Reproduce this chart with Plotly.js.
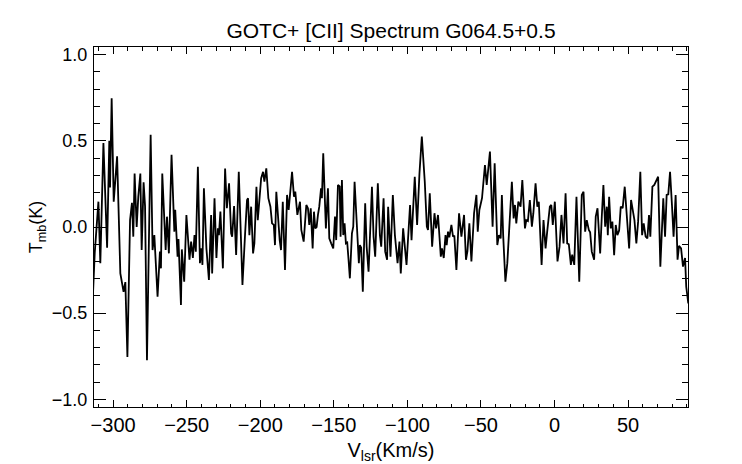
<!DOCTYPE html>
<html>
<head>
<meta charset="utf-8">
<script src="https://cdn.plot.ly/plotly-3.0.1.min.js"></script>
<style>html,body{margin:0;padding:0;background:#fff;}#chart{width:742px;height:464px;}</style>
</head>
<body>
<div id="chart"></div>
<script>
// Spectrum: velocity (km/s) and Tmb (K)
const velocity = [
-314,-312.5,-310.0,-308.7,-306.6,-304.1,-302.6,-302.1,-301.0,-299.6,-297.3,-295.1,-292.9,-291.7,-290.3,-288.5,-287.2,-286.3,-285.4,-284.0,
-282.9,-281.5,-280.6,-279.3,-278.3,-277.0,-274.5,-273.2,-272.0,-269.8,-268.2,-267.5,-266.6,-265.7,-264.3,-263.4,-262.1,-260.3,-258.4,-257.8,
-256.2,-255.6,-253.9,-253.3,-251.7,-250.2,-248.1,-247.0,-245.8,-244.7,-243.8,-242.4,-241.0,-240.1,-239.3,-238.3,-236.6,-234.9,-233.4,-232.7,
-231.1,-229.8,-228.8,-228.1,-227.1,-225.4,-223.9,-222.7,-221.2,-219.8,-219.1,-217.8,-216.4,-214.6,-213.5,-212.1,-210.3,-209.0,-208.3,-207.4,
-206.2,-204.9,-204.0,-202.6,-201.7,-200.8,-199.4,-198.1,-197.2,-195.9,-194.5,-193.1,-192.0,-190.8,-190.0,-189.1,-187.7,-186.8,-185.9,-184.7,
-183.2,-181.8,-180.7,-179.6,-178.4,-177.1,-176.2,-174.8,-173.0,-172.1,-170.5,-168.7,-167.6,-166.7,-165.7,-164.4,-163.5,-162.6,-161.7,-160.8,
-159.9,-158.7,-158.1,-157.2,-156.2,-155.4,-154.0,-153.1,-151.8,-150.4,-149.2,-148.4,-147.2,-146.0,-145.4,-144.5,-143.6,-142.7,-141.8,-140.9,
-140.0,-139.1,-137.7,-136.8,-135.9,-134.1,-133.0,-132.3,-131.4,-130.3,-128.7,-127.7,-126.4,-124.1,-123.0,-121.9,-120.1,-118.7,-117.8,-116.2,
-115.1,-113.8,-113.1,-111.5,-109.9,-108.5,-106.7,-105.4,-104.5,-102.9,-100.6,-98.2,-97.2,-95.0,-93.4,-91.8,-90.2,-88.2,-86.8,-86.0,
-84.8,-83.2,-81.6,-80.5,-79.2,-77.3,-76.5,-75.3,-74.1,-73.3,-72.4,-71.5,-70.1,-69.0,-68.1,-66.7,-64.9,-63.3,-61.5,-60.2,
-59.2,-57.9,-56.5,-54.7,-53.1,-52.2,-51.1,-49.3,-47.3,-46.1,-43.9,-42.1,-40.7,-38.9,-37.8,-36.6,-35.8,-34.9,-33.4,-32.1,
-30.5,-29.0,-27.8,-26.9,-26.0,-24.6,-23.1,-21.9,-20.1,-19.2,-18.1,-16.8,-15.4,-14.4,-12.9,-11.7,-10.7,-8.8,-7.5,-6.1,
-5.0,-3.2,-2.2,-1.2,0.2,2.0,3.4,4.7,6.1,7.5,8.6,9.7,11.1,12.0,13.4,14.9,16.8,18.5,19.7,20.8,
21.9,23.3,24.2,25.3,26.9,28.0,29.2,31.0,32.1,33.2,34.4,35.5,36.2,37.1,38.2,39.3,40.5,41.6,42.7,43.9,
45.0,46.3,47.7,49.0,50.7,52.0,53.1,54.3,55.6,56.8,58.3,59.5,60.6,61.9,63.1,64.2,65.1,66.5,67.8,69.2,
70.4,71.9,73.1,73.9,75.1,76.2,77.3,78.5,79.8,80.9,82.3,83.6,84.6,86.0,87.3,88.7,89.5,90.9
];
const tmb = [
-0.45,-0.15,0.147,-0.21,0.487,-0.12,0.50,0.23,0.748,0.147,0.41,-0.27,-0.376,-0.32,-0.754,0.04,0.14,-0.056,0.31,0.0,
0.176,0.31,-0.134,0.26,0.12,-0.773,0.535,-0.134,-0.047,-0.405,-0.143,-0.24,0.31,0.12,-0.134,0.06,-0.153,0.42,-0.027,0.1,
-0.172,-0.07,-0.453,-0.13,-0.318,0.07,-0.19,-0.085,-0.18,-0.047,-0.143,0.35,-0.21,-0.124,-0.22,0.225,-0.124,-0.308,0.07,-0.27,
0.167,-0.18,-0.008,-0.047,0.09,-0.24,0.34,0.109,0.254,-0.037,-0.056,0.122,-0.163,0.32,-0.037,-0.337,-0.037,0.157,0.167,-0.047,
0.118,-0.153,-0.095,0.234,0.04,0.138,0.283,0.32,0.263,0.341,0.167,0.118,0.021,0.012,-0.105,0.205,0.021,-0.076,-0.134,0.147,
-0.25,0.186,0.099,0.215,0.32,0.176,0.205,0.07,0.147,-0.017,-0.085,0.128,0.109,0.012,0.109,-0.124,0.089,-0.008,0.0,0.07,
0.118,0.225,0.167,0.428,0.118,-0.008,0.225,-0.066,-0.095,-0.124,0.06,-0.076,0.244,0.235,-0.056,0.273,-0.047,0.021,-0.095,-0.09,
-0.19,-0.298,-0.037,0.002,0.263,-0.066,-0.21,-0.105,-0.12,-0.376,0.138,-0.114,-0.26,0.234,-0.056,-0.172,0.254,-0.047,-0.114,0.167,
-0.143,-0.19,0.118,-0.172,0.186,-0.047,-0.21,-0.085,-0.27,-0.008,-0.22,0.128,-0.076,0.292,0.012,0.312,0.525,0.263,0.002,-0.017,
0.196,-0.114,0.08,-0.008,0.07,-0.172,-0.124,-0.18,-0.047,-0.105,-0.027,-0.06,0.012,-0.056,-0.05,-0.25,0.08,-0.056,0.07,-0.19,
-0.14,0.021,-0.20,0.08,0.186,-0.027,0.099,0.167,0.36,0.244,0.438,0.002,0.37,-0.105,-0.047,-0.066,0.186,-0.05,-0.318,-0.21,
0.04,0.263,0.05,0.128,0.021,0.147,0.118,0.273,-0.008,0.04,0.035,0.157,0.002,0.08,0.254,0.118,0.147,-0.22,0.04,-0.124,
-0.027,0.118,0.128,0.012,0.147,-0.20,-0.114,0.07,-0.095,0.196,-0.095,-0.1,-0.22,-0.16,-0.22,0.176,-0.318,0.186,0.205,-0.027,
0.04,-0.017,-0.03,-0.143,-0.19,0.06,0.109,-0.153,0.06,0.244,0.002,0.118,-0.047,0.176,-0.008,0.031,-0.163,0.012,-0.047,-0.02,
0.118,0.11,0.234,0.08,-0.124,0.157,0.099,0.04,-0.095,0.031,0.32,-0.047,0.021,-0.056,-0.066,0.07,-0.056,0.234,0.244,0.273,
0.292,-0.23,-0.017,0.167,-0.056,0.186,0.19,0.32,0.128,-0.056,0.186,-0.19,-0.11,-0.124,-0.23,-0.18,-0.347,-0.444
];
const xTickStep = 50, xMinorStep = 10;
const yTickStep = 0.5, yMinorStep = 0.1;
const xRange = [-313, 90.7];
const yRange = [-1.045, 1.045];

const font = 'Liberation Sans, Arial, Helvetica, sans-serif';
const trace = {
  x: velocity, y: tmb, type: 'scatter', mode: 'lines',
  line: {color: '#000', width: 1.8}, hoverinfo: 'none'
};
const layout = {
  width: 742, height: 464,
  margin: {l: 94, r: 54, t: 47, b: 57},
  paper_bgcolor: '#fff', plot_bgcolor: '#fff',
  showlegend: false,
  font: {family: font, color: '#000'},
  title: {text: 'GOTC+ [CII] Spectrum G064.5+0.5', font: {family: font, size: 21, color: '#000'},
          x: 0.5, xref: 'paper', xanchor: 'center', y: 1 - 31/464, yref: 'container', yanchor: 'middle'},
  xaxis: {
    range: xRange, tick0: 0, dtick: xTickStep, ticks: 'inside', ticklen: 7, tickwidth: 1, tickcolor: '#000',
    mirror: 'allticks', showline: true, linecolor: '#000', linewidth: 1,
    showgrid: false, zeroline: false, tickfont: {family: font, size: 20, color: '#000'},
    ticklabelstandoff: 0,
    minor: {dtick: xMinorStep, tick0: 0, ticks: 'inside', ticklen: 3.5, tickwidth: 1, tickcolor: '#000', showgrid: false},
    title: {text: 'V<sub>lsr</sub>(Km/s)', font: {family: font, size: 20, color: '#000'}, standoff: 8}
  },
  yaxis: {
    range: yRange, tick0: 0, dtick: yTickStep, tickformat: '.1f', ticks: 'inside', ticklen: 12, tickwidth: 1, tickcolor: '#000',
    mirror: 'allticks', showline: true, linecolor: '#000', linewidth: 1,
    showgrid: false, zeroline: false, tickfont: {family: font, size: 18, color: '#000'},
    ticklabelstandoff: 2,
    minor: {dtick: yMinorStep, tick0: 0, ticks: 'inside', ticklen: 6, tickwidth: 1, tickcolor: '#000', showgrid: false},
    title: {text: 'T<sub>mb</sub>(K)', font: {family: font, size: 18, color: '#000'}, standoff: 4}
  }
};
Plotly.newPlot('chart', [trace], layout, {staticPlot: true, displayModeBar: false});
</script>
</body>
</html>
